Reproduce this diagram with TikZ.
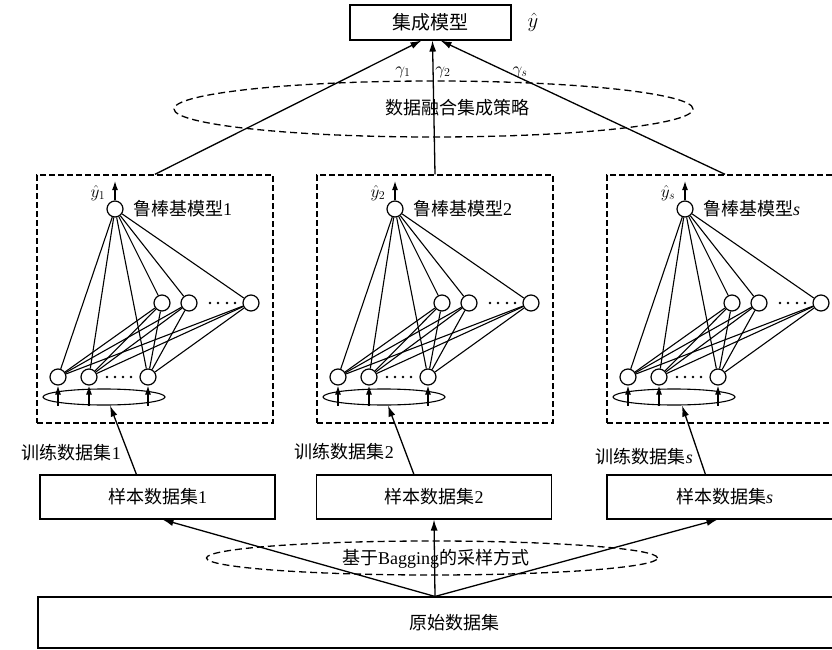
\documentclass[tikz,border=0pt]{standalone}
\usepackage{fontspec}
\setmainfont{Liberation Serif}
\newfontfamily\cjk{Noto Sans CJK SC}
\usetikzlibrary{arrows.meta,shapes.geometric}
\newcommand{\drawnet}[4]{%
  \node[dbox] (box#1) at (#2+118,299) {};
  \node[neuron] (o#1) at (#2+78,209) {};
  \node[neuron] (h#1a) at (#2+125,303) {};
  \node[neuron] (h#1b) at (#2+152,303) {};
  \node[neuron] (h#1c) at (#2+214,303) {};
  \node[neuron] (i#1a) at (#2+21,377) {};
  \node[neuron] (i#1b) at (#2+52,377) {};
  \node[neuron] (i#1c) at (#2+111,377) {};
  \node[inell] (e#1) at (#2+67,397) {};
  \coordinate (y#1) at (#2+78,181);
  \node[ylab] (yl#1) at (#2+61,193) {$\hat{y}_{#4}$};
  \node[anchor=west] (ml#1) at (#2+96,209) {{\cjk 鲁棒基模型}#3};
  \foreach \d in {173,181,190,198} \fill (#2+\d,303) circle (1.4pt);
  \foreach \d in {70,78,86,94} \fill (#2+\d,377) circle (1.4pt);
  \foreach \h in {a,b,c} {
    \draw[link] (o#1) -- (h#1\h);
    \foreach \i in {a,b,c} {\draw[link] (h#1\h) -- (i#1\i);}
  }
  \foreach \i in {a,b,c} {
    \draw[link] (o#1) -- (i#1\i);
    \draw[smallarr] (i#1\i |- e#1.south) -- (i#1\i);
  }
  \draw[smallarr] (o#1) -- (y#1);
}
\begin{document}
\begin{tikzpicture}[x=1pt,y=-1pt,
  every node/.style={font=\fontsize{18}{20}\selectfont, inner sep=0pt},
  arr/.style={-{Latex[length=11pt,width=7pt]}, line width=1.3pt},
  smallarr/.style={-{Latex[length=9pt,width=6pt]}, line width=1.2pt},
  solidbox/.style={draw, line width=1.1pt, minimum width=235pt, minimum height=44pt},
  dbox/.style={draw, dash pattern=on 6pt off 3pt, line width=1.4pt, minimum width=236pt, minimum height=248pt},
  dell/.style={draw, ellipse, dash pattern=on 7pt off 4pt, line width=1.3pt},
  inell/.style={draw, ellipse, line width=1.1pt, minimum width=122pt, minimum height=16pt},
  neuron/.style={draw, circle, line width=1.2pt, minimum size=16pt, inner sep=0pt},
  link/.style={line width=1.1pt},
  gam/.style={font=\fontsize{17}{19}\selectfont},
  ylab/.style={font=\fontsize{17}{19}\selectfont}
]
\clip (0,0) rectangle (832,650);
\fill[white] (0,0) rectangle (832,650);

% top model
\node[draw, line width=1.1pt, minimum width=161pt, minimum height=35pt] (top) at (430.5,22.5) {\cjk\fontsize{19}{21}\selectfont 集成模型};
\node[font=\fontsize{20}{22}\selectfont] (yhat) at (533,22) {$\hat{y}$};

% fusion ellipse
\node[dell, minimum width=519pt, minimum height=56pt] (fuse) at (433.5,109) {};
\node (fusetxt) at (457,108) {\cjk 数据融合集成策略};

% nets
\drawnet{1}{37}{1}{1}
\drawnet{2}{317}{2}{2}
\drawnet{3}{607}{\textit{s}}{s}

% arrows to top
\draw[arr] (box1.north) -- ([xshift=-9pt]top.south);
\draw[arr] (box2.north) -- ([xshift=2pt]top.south);
\draw[arr] (box3.north) -- ([xshift=10pt]top.south);
\node[gam] (g1) at (403,72) {$\gamma_1$};
\node[gam] (g2) at (443,72) {$\gamma_2$};
\node[gam] (gs) at (520,72) {$\gamma_s$};

% sample boxes
\node[solidbox] (s1) at (157.5,497) {{\cjk 样本数据集}1};
\node[solidbox] (s2) at (434,497) {{\cjk 样本数据集}2};
\node[solidbox] (s3) at (724.5,497) {{\cjk 样本数据集}\textit{s}};

% training data lines
\draw[arr] ([xshift=97pt]s1.north west) -- ([xshift=6pt]e1.south);
\draw[arr] ([xshift=98pt]s2.north west) -- ([xshift=4pt]e2.south);
\draw[arr] ([xshift=99pt]s3.north west) -- ([xshift=8pt]e3.south);
\node[anchor=east] (t1) at (121,453) {{\cjk 训练数据集}1};
\node[anchor=east] (t2) at (394,452) {{\cjk 训练数据集}2};
\node[anchor=east] (t3) at (693,457) {{\cjk 训练数据集}\textit{s}};

% bagging
\node[dell, minimum width=451pt, minimum height=34pt] (bag) at (432,558) {};
\node (bagtxt) at (435.5,559) {{\cjk 基于}Bagging{\cjk 的采样方式}};

% original data
\node[draw, line width=1.1pt, minimum width=832pt, minimum height=51pt] (orig) at (454,622.5) {\cjk 原始数据集};
\coordinate (src) at ([xshift=-19pt]orig.north);
\draw[arr] (src) -- ([xshift=5pt]s1.south);
\draw[arr] (src) -- (s2.south);
\draw[arr] (src) -- ([xshift=-7pt]s3.south);
\end{tikzpicture}
\end{document}
